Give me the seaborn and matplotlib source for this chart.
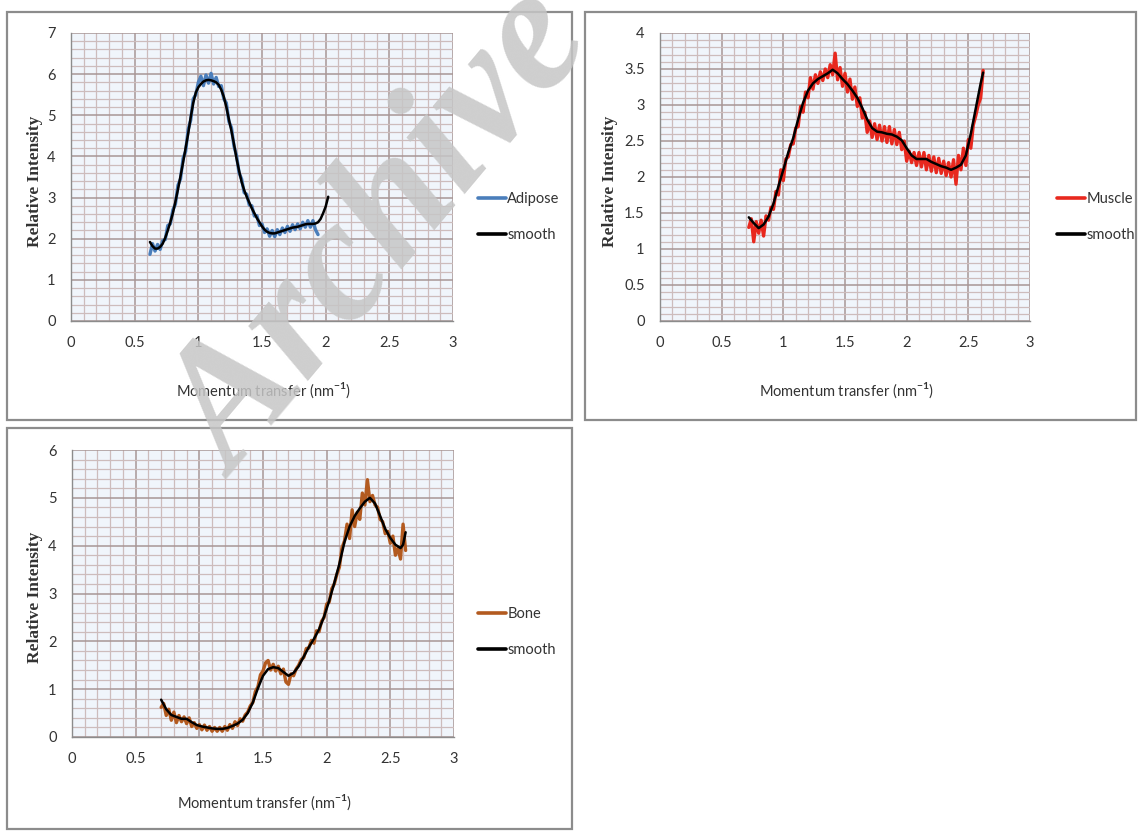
import numpy as np
import pandas as pd
import matplotlib
matplotlib.use("Agg")
import matplotlib.pyplot as plt
import seaborn as sns
from matplotlib.patches import Rectangle

sns.set_style("white")
plt.rcParams['font.family'] = ['Lato', 'DejaVu Sans']
plt.rcParams['mathtext.fontset'] = 'custom'
plt.rcParams['mathtext.rm'] = 'Lato'
plt.rcParams['mathtext.bf'] = 'Lato:bold'

# ---------------- data ----------------
adipose_q = np.round(np.arange(0.62, 1.9401, 0.02), 2)
adipose_raw = [1.62, 1.88, 1.70, 1.86, 1.74, 1.95, 1.98, 2.32, 2.36, 2.70, 2.84, 3.30, 3.45, 3.95,
               4.12, 4.65, 4.88, 5.40, 5.50, 5.80, 5.95, 5.72, 5.98, 5.78, 6.02, 5.76, 5.92, 5.70,
               5.72, 5.40, 5.30, 4.85, 4.70, 4.25, 4.02, 3.60, 3.45, 3.12, 3.08, 2.82, 2.80, 2.55,
               2.56, 2.32, 2.36, 2.15, 2.24, 2.06, 2.20, 2.05, 2.22, 2.10, 2.26, 2.15, 2.30, 2.18,
               2.34, 2.22, 2.36, 2.24, 2.40, 2.28, 2.44, 2.28, 2.44, 2.22, 2.10]
adipose_sq = np.round(np.arange(0.62, 2.0201, 0.02), 2)
adipose_smooth = [1.92, 1.82, 1.76, 1.76, 1.80, 1.88, 2.02, 2.20, 2.40, 2.62, 2.90, 3.20, 3.52, 3.85,
                  4.20, 4.55, 4.95, 5.30, 5.55, 5.68, 5.76, 5.82, 5.85, 5.86, 5.85, 5.83, 5.80, 5.74,
                  5.62, 5.45, 5.20, 4.90, 4.62, 4.30, 3.95, 3.65, 3.38, 3.18, 3.02, 2.88, 2.74, 2.62,
                  2.50, 2.40, 2.30, 2.22, 2.17, 2.14, 2.13, 2.13, 2.15, 2.17, 2.19, 2.21, 2.23, 2.25,
                  2.27, 2.28, 2.29, 2.31, 2.33, 2.35, 2.36, 2.36, 2.36, 2.37, 2.40, 2.48, 2.62, 2.78,
                  3.02]

muscle_q = np.round(np.arange(0.72, 2.6201, 0.02), 2)
muscle_raw = [1.30, 1.42, 1.10, 1.38, 1.22, 1.40, 1.18, 1.46, 1.40, 1.58, 1.55, 1.80, 1.75, 2.10,
              1.95, 2.25, 2.28, 2.45, 2.46, 2.68, 2.70, 2.98, 2.90, 3.18, 3.10, 3.38, 3.22, 3.42,
              3.30, 3.46, 3.34, 3.50, 3.38, 3.56, 3.42, 3.72, 3.35, 3.52, 3.26, 3.44, 3.18, 3.36,
              3.08, 3.25, 2.98, 3.10, 2.82, 2.90, 2.62, 2.78, 2.55, 2.74, 2.52, 2.72, 2.50, 2.70,
              2.48, 2.70, 2.46, 2.66, 2.45, 2.62, 2.38, 2.50, 2.22, 2.36, 2.20, 2.34, 2.16, 2.34,
              2.14, 2.34, 2.10, 2.30, 2.08, 2.28, 2.06, 2.26, 2.05, 2.22, 2.02, 2.20, 2.00, 2.24,
              1.90, 2.30, 2.10, 2.40, 2.16, 2.52, 2.40, 2.72, 2.85, 3.00, 3.10, 3.48]
muscle_sq = [0.72, 0.76, 0.80, 0.84, 0.88, 0.92, 0.96, 1.00, 1.04, 1.08, 1.12, 1.16, 1.20, 1.24,
             1.28, 1.32, 1.36, 1.40, 1.44, 1.48, 1.52, 1.56, 1.60, 1.64, 1.68, 1.72, 1.76, 1.80,
             1.84, 1.88, 1.92, 1.96, 2.00, 2.04, 2.08, 2.12, 2.16, 2.20, 2.24, 2.28, 2.32, 2.36,
             2.40, 2.44, 2.48, 2.52, 2.56, 2.60, 2.62]
muscle_smooth = [1.44, 1.36, 1.29, 1.34, 1.45, 1.63, 1.87, 2.10, 2.34, 2.54, 2.80, 3.03, 3.20, 3.30,
                 3.36, 3.40, 3.44, 3.49, 3.44, 3.36, 3.29, 3.20, 3.10, 2.96, 2.80, 2.68, 2.63, 2.62,
                 2.60, 2.59, 2.56, 2.51, 2.40, 2.30, 2.25, 2.25, 2.25, 2.21, 2.18, 2.15, 2.13, 2.10,
                 2.13, 2.17, 2.30, 2.60, 2.95, 3.30, 3.45]

bone_q = np.round(np.arange(0.70, 2.6201, 0.02), 2)
bone_raw = [0.62, 0.70, 0.45, 0.58, 0.35, 0.52, 0.30, 0.45, 0.32, 0.42, 0.28, 0.40, 0.22, 0.30,
            0.18, 0.26, 0.15, 0.25, 0.14, 0.22, 0.12, 0.20, 0.12, 0.20, 0.12, 0.22, 0.14, 0.26,
            0.18, 0.32, 0.24, 0.38, 0.33, 0.46, 0.52, 0.65, 0.72, 0.95, 1.05, 1.30, 1.38, 1.55,
            1.60, 1.40, 1.52, 1.38, 1.48, 1.32, 1.42, 1.15, 1.10, 1.32, 1.28, 1.42, 1.50, 1.62,
            1.66, 1.85, 1.86, 2.02, 1.96, 2.22, 2.20, 2.42, 2.50, 2.78, 2.82, 3.10, 3.20, 3.40,
            3.55, 3.95, 4.10, 4.45, 4.15, 4.75, 4.40, 4.70, 4.55, 5.10, 4.85, 5.38, 4.92, 5.05,
            4.85, 4.80, 4.55, 4.50, 4.25, 4.30, 4.05, 4.20, 3.80, 3.95, 3.72, 4.45, 3.90]
bone_sq = [0.70, 0.74, 0.78, 0.82, 0.86, 0.90, 0.94, 0.98, 1.02, 1.06, 1.10, 1.14, 1.18, 1.22,
           1.26, 1.30, 1.34, 1.38, 1.42, 1.46, 1.50, 1.54, 1.58, 1.62, 1.66, 1.70, 1.74, 1.78,
           1.82, 1.86, 1.90, 1.94, 1.98, 2.02, 2.06, 2.10, 2.14, 2.18, 2.22, 2.26, 2.30, 2.34,
           2.38, 2.42, 2.46, 2.50, 2.54, 2.58, 2.60, 2.62]
bone_smooth = [0.78, 0.58, 0.46, 0.42, 0.38, 0.38, 0.31, 0.25, 0.22, 0.20, 0.18, 0.17, 0.17, 0.19,
               0.23, 0.28, 0.36, 0.50, 0.72, 1.02, 1.28, 1.42, 1.46, 1.44, 1.36, 1.28, 1.34, 1.48,
               1.68, 1.88, 2.05, 2.25, 2.52, 2.85, 3.22, 3.62, 4.08, 4.40, 4.62, 4.78, 4.92, 5.00,
               4.88, 4.62, 4.35, 4.16, 4.02, 3.95, 4.02, 4.28]

x_ticks = [0, 0.5, 1, 1.5, 2, 2.5, 3]
x_ticklabels = ["0", "0.5", "1", "1.5", "2", "2.5", "3"]

# ---------------- figure ----------------
W, H = 1138, 831
fig = plt.figure(figsize=(W / 100, H / 100), dpi=100)
fig.patch.set_facecolor("white")

def fx(px):
    return px / W

def fy(py):
    return 1 - py / H

# outer chart boxes
for (x0, y0, x1, y1) in [(7, 12, 572, 420), (585, 12, 1136, 420), (7, 428, 572, 829)]:
    fig.add_artist(Rectangle((fx(x0), fy(y1)), fx(x1) - fx(x0), fy(y0) - fy(y1),
                             transform=fig.transFigure, fill=False, edgecolor="#8c8c8c",
                             linewidth=1.6, zorder=0))

panels = [
    dict(rect=(71, 33, 453, 321), raw=(adipose_q, adipose_raw), sm=(adipose_sq, adipose_smooth),
         color="#4a7ebb", name="Adipose", ymax=7, ymaj=1, ymin=0.2,
         yticklabels=["0", "1", "2", "3", "4", "5", "6", "7"], leg=(478, 217), xlab_y=390,
         ylab_x=35),
    dict(rect=(660, 33, 1030, 321), raw=(muscle_q, muscle_raw), sm=(muscle_sq, muscle_smooth),
         color="#e8281e", name="Muscle", ymax=4, ymaj=0.5, ymin=0.1,
         yticklabels=["0", "0.5", "1", "1.5", "2", "2.5", "3", "3.5", "4"], leg=(1057, 217),
         xlab_y=390, ylab_x=610),
    dict(rect=(72, 450, 454, 737), raw=(bone_q, bone_raw), sm=(bone_sq, bone_smooth),
         color="#b35a1f", name="Bone", ymax=6, ymaj=1, ymin=0.2,
         yticklabels=["0", "1", "2", "3", "4", "5", "6"], leg=(478, 632), xlab_y=802,
         ylab_x=35),
]

for p in panels:
    x0, y0, x1, y1 = p["rect"]
    ax = fig.add_axes([fx(x0), fy(y1), fx(x1) - fx(x0), fy(y0) - fy(y1)])
    ax.set_facecolor("#f0f5fb")
    qx, qy = p["raw"]
    sx, sy = p["sm"]
    sns.lineplot(x=list(qx), y=qy, ax=ax, color=p["color"], linewidth=2.4, label=p["name"],
                 estimator=None, sort=False, zorder=3)
    sns.lineplot(x=list(sx), y=sy, ax=ax, color="black", linewidth=1.8, label="smooth",
                 estimator=None, sort=False, zorder=4)
    ax.set_xlim(0, 3)
    ax.set_ylim(0, p["ymax"])
    ax.set_xticks(x_ticks)
    ax.set_xticklabels(x_ticklabels)
    ax.set_xticks(np.round(np.arange(0, 3.0001, 0.1), 2), minor=True)
    yt = np.round(np.arange(0, p["ymax"] + 1e-9, p["ymaj"]), 2)
    ax.set_yticks(yt)
    ax.set_yticklabels(p["yticklabels"])
    ax.set_yticks(np.round(np.arange(0, p["ymax"] + 1e-9, p["ymin"]), 2), minor=True)
    ax.grid(which="major", color="#a89696", linewidth=1.1)
    ax.grid(which="minor", color="#cdbcbc", linewidth=0.9)
    ax.set_axisbelow(True)
    for s in ["top", "right"]:
        ax.spines[s].set_visible(False)
    for s in ["left", "bottom"]:
        ax.spines[s].set_color("#8c8c8c")
        ax.spines[s].set_linewidth(1.0)
    ax.tick_params(which="major", direction="out", length=4, color="#8c8c8c",
                   labelsize=10.5, labelcolor="#333333", pad=7)
    ax.tick_params(which="minor", length=0)
    ax.set_xlabel("")
    ax.set_ylabel("")
    # axis titles
    fig.text(fx((x0 + x1) / 2 + 2), fy(p["xlab_y"]), "Momentum transfer (nm$^{\\mathbf{-1}}$)",
             ha="center", va="center", fontsize=10.5, color="#333333")
    fig.text(fx(p["ylab_x"]), fy((y0 + y1) / 2 + 4), "Relative Intensity", rotation=90,
             ha="center", va="center", fontsize=12.5, fontweight="bold",
             family=["Liberation Serif", "DejaVu Serif"], color="#333333")
    leg = ax.legend(loc="center left", bbox_to_anchor=(fx(p["leg"][0]), fy(p["leg"][1])),
                    bbox_transform=fig.transFigure, frameon=False, handlelength=1.9,
                    handletextpad=0.1, labelspacing=1.5, fontsize=10.5, borderaxespad=0,
                    borderpad=0)
    for t in leg.get_texts():
        t.set_color("#333333")
    for line in leg.get_lines():
        line.set_linewidth(2.6)

# watermark
fig.text(fx(383), fy(236), "Archive", rotation=50, ha="center", va="center",
         fontsize=126, fontweight="bold", style="italic",
         family=["Liberation Serif", "DejaVu Serif"], color="#c6c6c6", alpha=0.85, zorder=20)

fig.savefig("out.png", dpi=100)
